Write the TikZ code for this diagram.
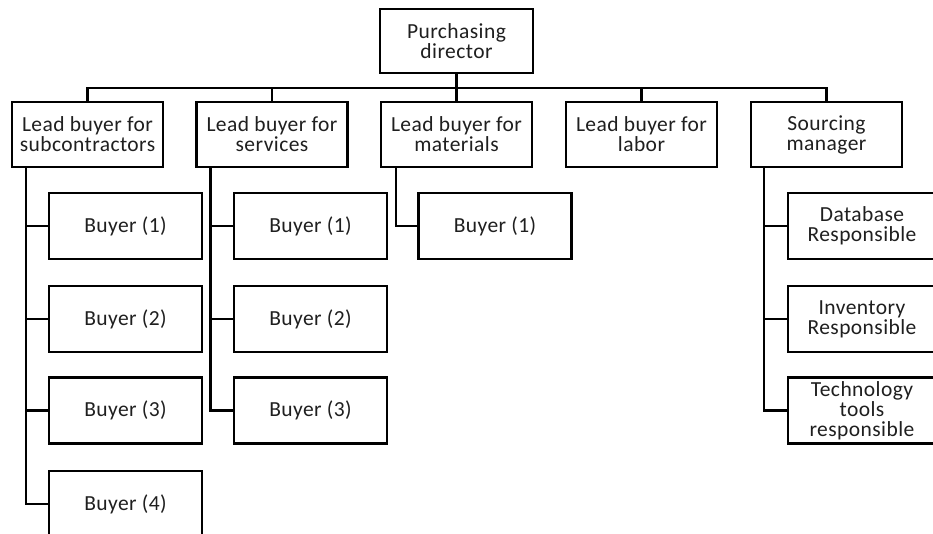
\documentclass[tikz,border=0pt]{standalone}
\usepackage{fontspec}
\setmainfont[LetterSpace=2]{Carlito}
\begin{document}
\begin{tikzpicture}[x=1pt,y=-1pt,
  box/.style={draw=black,line width=2.2pt,rectangle,inner sep=0pt,align=center,
    text=black!88,font=\fontsize{21.5}{20}\selectfont},
  l1/.style={box,minimum width=151pt,minimum height=65pt},
  buy/.style={box,minimum width=153pt,minimum height=66pt},
  wire/.style={line width=2.2pt,draw=black}]
\useasboundingbox (0,0) rectangle (933,534);
\clip (0,0) rectangle (933,534);
\fill[white] (0,0) rectangle (933,534);
% top
\node[box,minimum width=153pt,minimum height=64pt] (dir) at (456.5,41) {Purchasing\\director};
% level 1
\node[l1] (sub) at (87.5,134.5) {Lead buyer for\\subcontractors};
\node[l1] (svc) at (272,134.5) {Lead buyer for\\services};
\node[l1] (mat) at (456.5,134.5) {Lead buyer for\\materials};
\node[l1] (lab) at (641.5,134.5) {Lead buyer for\\labor};
\node[l1] (src) at (826.5,134.5) {Sourcing\\manager};
% column 1
\node[buy] (a1) at (125.5,226) {Buyer (1)};
\node[buy] (a2) at (125.5,319) {Buyer (2)};
\node[buy] (a3) at (125.5,410.5) {Buyer (3)};
\node[buy] (a4) at (125.5,504) {Buyer (4)};
% column 2
\node[buy] (b1) at (310.5,226) {Buyer (1)};
\node[buy] (b2) at (310.5,319) {Buyer (2)};
\node[buy] (b3) at (310.5,410.5) {Buyer (3)};
% column 3
\node[buy] (c1) at (495,226) {Buyer (1)};
% column 5
\node[buy,minimum width=148pt] (d1) at (862,226) {Database\\Responsible};
\node[buy,minimum width=148pt] (d2) at (862,319) {Inventory\\Responsible};
\node[buy,minimum width=148pt] (d3) at (862,410.5) {Technology\\tools\\responsible};
% bus
\coordinate (bus) at (456.5,88);
\draw[wire] (dir.south) -- (bus);
\foreach \n in {sub,svc,mat,lab,src} \draw[wire] (bus) -| (\n.north);
% trunks
\foreach \n in {a1,a2,a3,a4} \draw[wire] ([xshift=15pt]sub.south west) |- (\n.west);
\foreach \n in {b1,b2,b3} \draw[wire] ([xshift=15pt]svc.south west) |- (\n.west);
\draw[wire] ([xshift=16pt]mat.south west) |- (c1.west);
\foreach \n in {d1,d2,d3} \draw[wire] ([xshift=14pt]src.south west) |- (\n.west);
\end{tikzpicture}
\end{document}
